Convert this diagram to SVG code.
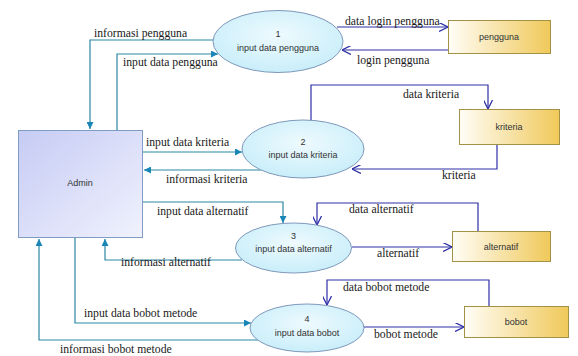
<svg xmlns="http://www.w3.org/2000/svg" width="578" height="356" viewBox="0 0 578 356">
  <defs>
    <linearGradient id="gAdmin" x1="0" y1="0" x2="1" y2="1">
      <stop offset="0" stop-color="#c6cbf4"/>
      <stop offset="1" stop-color="#f0f2fd"/>
    </linearGradient>
    <linearGradient id="gStore" x1="0" y1="0" x2="1" y2="0">
      <stop offset="0" stop-color="#fffdf6"/>
      <stop offset="1" stop-color="#f0c95a"/>
    </linearGradient>
    <radialGradient id="gProc" cx="0.5" cy="0.4" r="0.6">
      <stop offset="0" stop-color="#eefafe"/>
      <stop offset="1" stop-color="#c9eefa"/>
    </radialGradient>
    <marker id="aTeal" viewBox="0 0 10 10" refX="10" refY="5" markerWidth="9" markerHeight="7" markerUnits="userSpaceOnUse" orient="auto">
      <path d="M0,0 L10,5 L0,10 Z" fill="#1a86b8"/>
    </marker>
    <marker id="aBlue" viewBox="0 0 10 10" refX="10" refY="5" markerWidth="9" markerHeight="9" markerUnits="userSpaceOnUse" orient="auto">
      <path d="M0,0 L10,5 L0,10" fill="none" stroke="#2e30a6" stroke-width="1.4"/>
    </marker>
  </defs>
  <style>
    .ext { fill: url(#gAdmin); stroke: #7f9cc4; stroke-width: 1; }
    .store { fill: url(#gStore); stroke: #a39146; stroke-width: 1; }
    .proc { fill: url(#gProc); stroke: #7f98ba; stroke-width: 1; }
    .nt { font-family: "Liberation Sans", Arial, sans-serif; font-size: 9px; fill: #333; text-anchor: middle; }
    .lbl { font-family: "Liberation Serif", "Times New Roman", serif; font-size: 11.7px; fill: #1a1a1a; }
    .ft { fill: none; stroke: #2b88a6; stroke-width: 1.2; marker-end: url(#aTeal); }
    .fb { fill: none; stroke: #2e30a6; stroke-width: 1.2; marker-end: url(#aBlue); }
  </style>
  <rect width="578" height="356" fill="#ffffff"/>

  <!-- data flows -->
  <g id="flows">
    <!-- Admin side -->
    <path class="ft" d="M213,40 H90 V129"/>
    <path class="ft" d="M117,130 V54 H218"/>
    <path class="ft" d="M143,152 H242"/>
    <path class="ft" d="M261,170 H144"/>
    <path class="ft" d="M143,202 H283 V223"/>
    <path class="ft" d="M242,260 H105 V239"/>
    <path class="ft" d="M75,238 V323 H251"/>
    <path class="ft" d="M258,340 H39 V239"/>
    <!-- data store side -->
    <path class="fb" d="M337,27 H448"/>
    <path class="fb" d="M448,50 H342"/>
    <path class="fb" d="M311,120 V85 H488 V109"/>
    <path class="fb" d="M497,144 V169 H352"/>
    <path class="fb" d="M478,231 V203 H317 V225"/>
    <path class="fb" d="M352,247 H452"/>
    <path class="fb" d="M489,306 V280 H327 V305"/>
    <path class="fb" d="M364,327 H464"/>

    <text class="lbl" x="94" y="37">informasi pengguna</text>
    <text class="lbl" x="123" y="66">input data pengguna</text>
    <text class="lbl" x="345" y="25">data login pengguna</text>
    <text class="lbl" x="357" y="64">login pengguna</text>
    <text class="lbl" x="403" y="98">data kriteria</text>
    <text class="lbl" x="442" y="179">kriteria</text>
    <text class="lbl" x="146" y="146">input data kriteria</text>
    <text class="lbl" x="166" y="183">informasi kriteria</text>
    <text class="lbl" x="157" y="215">input data alternatif</text>
    <text class="lbl" x="121" y="266">informasi alternatif</text>
    <text class="lbl" x="349" y="213">data alternatif</text>
    <text class="lbl" x="377" y="257">alternatif</text>
    <text class="lbl" x="343" y="291">data bobot metode</text>
    <text class="lbl" x="374" y="338">bobot metode</text>
    <text class="lbl" x="84" y="317">input data bobot metode</text>
    <text class="lbl" x="60" y="353">informasi bobot metode</text>
  </g>

  <!-- external entity -->
  <g id="admin">
    <rect class="ext" x="18.5" y="130.5" width="124" height="107"/>
    <text class="nt" x="80" y="186">Admin</text>
  </g>

  <!-- processes -->
  <g id="p1">
    <ellipse class="proc" cx="278" cy="41.5" rx="65" ry="31"/>
    <text class="nt" x="278" y="37">1</text>
    <text class="nt" x="278" y="51">input data pengguna</text>
  </g>
  <g id="p2">
    <ellipse class="proc" cx="303" cy="149" rx="61" ry="29"/>
    <text class="nt" x="303" y="145">2</text>
    <text class="nt" x="303" y="158">input data kriteria</text>
  </g>
  <g id="p3">
    <ellipse class="proc" cx="293.5" cy="248" rx="58" ry="25"/>
    <text class="nt" x="293.5" y="239">3</text>
    <text class="nt" x="293.5" y="252">input data alternatif</text>
  </g>
  <g id="p4">
    <ellipse class="proc" cx="307" cy="328" rx="57" ry="24"/>
    <text class="nt" x="307" y="322">4</text>
    <text class="nt" x="307" y="336">input data bobot</text>
  </g>

  <!-- data stores -->
  <g id="s-pengguna">
    <rect class="store" x="448.5" y="20.5" width="102" height="33"/>
    <text class="nt" x="499" y="40">pengguna</text>
  </g>
  <g id="s-kriteria">
    <rect class="store" x="459.5" y="109.5" width="100" height="35"/>
    <text class="nt" x="509" y="130">kriteria</text>
  </g>
  <g id="s-alternatif">
    <rect class="store" x="452.5" y="231.5" width="98" height="30"/>
    <text class="nt" x="501" y="250">alternatif</text>
  </g>
  <g id="s-bobot">
    <rect class="store" x="464.5" y="306.5" width="104" height="31"/>
    <text class="nt" x="516" y="325">bobot</text>
  </g>
</svg>
